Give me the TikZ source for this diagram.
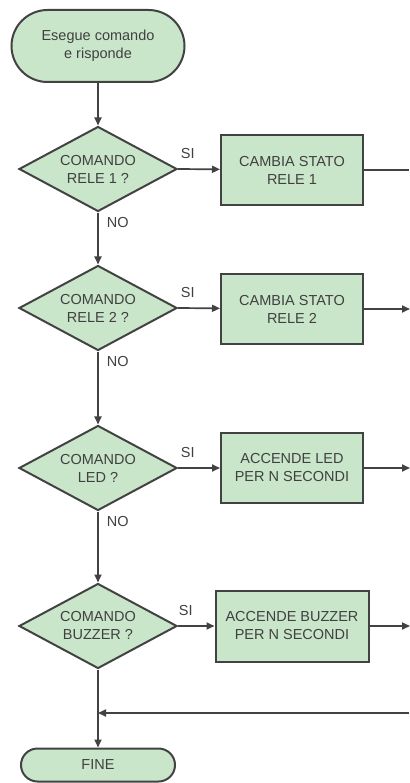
\documentclass[tikz,border=0pt]{standalone}
\usepackage{fontspec}
\setmainfont{Liberation Sans}
\usetikzlibrary{arrows.meta,positioning,shapes.geometric,shapes.misc}
\definecolor{flowfill}{RGB}{202,230,202}
\definecolor{flowedge}{RGB}{66,66,66}
\definecolor{flowtext}{RGB}{64,64,64}
\newcommand{\flowfont}{\fontsize{14.5}{18}\selectfont}
\tikzset{terminal/.style={rounded rectangle,draw=flowedge,line width=2pt,fill=flowfill,text=flowtext,align=center,font=\flowfont,inner sep=2pt},
  decision/.style={diamond,draw=flowedge,line width=2pt,fill=flowfill,text=flowtext,align=center,font=\flowfont,aspect=1.86,inner sep=1pt,minimum width=158pt,minimum height=85pt},
  action/.style={rectangle,draw=flowedge,line width=2pt,fill=flowfill,text=flowtext,align=center,font=\flowfont,inner sep=2pt,minimum width=142pt,minimum height=70pt},
  flow/.style={-{Triangle[length=8pt,width=7pt]},line width=1.7pt,draw=flowedge},
  plain/.style={line width=1.7pt,draw=flowedge},
  answer/.style={font=\flowfont,text=flowtext,inner sep=1pt}}

\begin{document}
\begin{tikzpicture}[x=1pt,y=-1pt]
\useasboundingbox (0,0) rectangle (409,783);
\node[terminal,minimum width=177pt,minimum height=72pt] (start) at (98,46) {Esegue comando\\e risponde};
\node[decision] (rele1) at (98,169) {COMANDO\\RELE 1 ?};
\node[decision] (rele2) at (98,308) {COMANDO\\RELE 2 ?};
\node[decision] (led) at (98,468) {COMANDO\\LED ?};
\node[decision] (buzzer) at (98,626) {COMANDO\\BUZZER ?};
\node[action] (stato1) at (292,170) {CAMBIA STATO\\RELE 1};
\node[action] (stato2) at (292,309) {CAMBIA STATO\\RELE 2};
\node[action] (accled) at (292,468) {ACCENDE LED\\PER N SECONDI};
\node[action,minimum width=153pt,minimum height=71pt] (accbuz) at (292,626) {ACCENDE BUZZER\\PER N SECONDI};
\node[terminal,minimum width=158pt,minimum height=33pt] (fine) at (98,765) {FINE};
\coordinate (out1) at (409,170);
\coordinate (out2) at (410,309);
\coordinate (out3) at (410,468);
\coordinate (out4) at (410,626);
\coordinate (back) at (409,713);
\coordinate (join) at (98,713);

\draw[flow] (start) -- (rele1);
\draw[flow] (rele1) -- node[answer,pos=0,anchor=north west,xshift=7pt,yshift=-3pt] {NO} (rele2);
\draw[flow] (rele2) -- node[answer,pos=0,anchor=north west,xshift=7pt,yshift=-3pt] {NO} (led);
\draw[flow] (led) -- node[answer,pos=0,anchor=north west,xshift=7pt,yshift=-3pt] {NO} (buzzer);
\draw[flow] (buzzer) -- (fine);
\draw[flow] (rele1.east) -- node[answer,pos=0,anchor=south west,xshift=1pt,yshift=9pt] {SI} (stato1);
\draw[flow] (rele2.east) -- node[answer,pos=0,anchor=south west,xshift=1pt,yshift=9pt] {SI} (stato2);
\draw[flow] (led.east) -- node[answer,pos=0,anchor=south west,xshift=1pt,yshift=9pt] {SI} (accled);
\draw[flow] (buzzer.east) -- node[answer,pos=0,anchor=south west,xshift=-1pt,yshift=9pt] {SI} (accbuz);
\draw[plain] (stato1) -- (out1);
\draw[flow] (stato2) -- (out2);
\draw[flow] (accled) -- (out3);
\draw[flow] (accbuz) -- (out4);
\draw[flow] (back) -- (join);
\end{tikzpicture}
\end{document}
